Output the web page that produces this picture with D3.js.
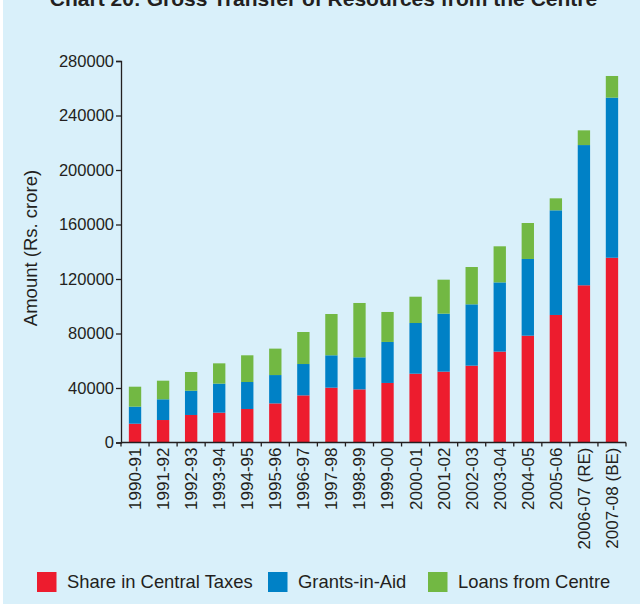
<!DOCTYPE html>
<html>
<head>
<meta charset="utf-8">
<script src="https://cdn.jsdelivr.net/npm/d3@7"></script>
<style>
  html, body { margin: 0; padding: 0; background: #ffffff; }
  svg { display: block; font-family: "Liberation Sans", Arial, sans-serif; }
</style>
</head>
<body>
<svg id="chart" width="640" height="604"></svg>
<script>
// Gross transfer of resources from the Centre (Rs. crore)
const years = ["1990-91", "1991-92", "1992-93", "1993-94", "1994-95", "1995-96",
  "1996-97", "1997-98", "1998-99", "1999-00", "2000-01", "2001-02", "2002-03",
  "2003-04", "2004-05", "2005-06", "2006-07 (RE)", "2007-08 (BE)"];
const shareInTaxes = [13800, 16500, 20200, 21900, 24600, 28700, 34600, 40250, 39000,
  43700, 50500, 52000, 56400, 66700, 78400, 93600, 115400, 135600];
const grantsInAid = [12500, 15200, 17800, 21300, 19800, 20800, 23000, 23750, 23500,
  30100, 37200, 42550, 45000, 50800, 56300, 76800, 102900, 117500];
const loansFromCentre = [14650, 13660, 13750, 14900, 19600, 19400, 23500, 30300, 39900,
  22000, 19300, 24950, 27400, 26500, 26400, 8800, 10800, 15900];
const seriesNames = ["Share in Central Taxes", "Grants-in-Aid", "Loans from Centre"];
const seriesColors = ["#ed1c2e", "#0081c6", "#72b843"];
const yTicks = [0, 40000, 80000, 120000, 160000, 200000, 240000, 280000];

const textColor = "#231f20";
const svg = d3.select("#chart");

// panel background
svg.append("rect").attr("x", 3).attr("y", 0).attr("width", 637).attr("height", 604)
  .attr("fill", "#d9f0fa");

// title (sits partly above the top edge)
svg.append("text").attr("x", 323.5).attr("y", 6).attr("text-anchor", "middle")
  .attr("font-size", 21).attr("font-weight", "bold").attr("fill", textColor)
  .text("Chart 20: Gross Transfer of Resources from the Centre");

const rows = years.map((y, i) => ({
  year: y,
  s0: shareInTaxes[i], s1: grantsInAid[i], s2: loansFromCentre[i]
}));
const stack = d3.stack().keys(["s0", "s1", "s2"]);
const layers = stack(rows);

const x = d3.scaleBand().domain(years).range([121, 626]).paddingInner(0.56).paddingOuter(0.28);
const y = d3.scaleLinear().domain([0, 280000]).range([442.5, 61]);

// bars
svg.append("g").selectAll("g").data(layers).join("g")
  .attr("fill", (d, i) => seriesColors[i])
  .selectAll("rect").data(d => d).join("rect")
  .attr("x", d => x(d.data.year))
  .attr("width", x.bandwidth())
  .attr("y", d => y(d[1]))
  .attr("height", d => y(d[0]) - y(d[1]));

// y axis
const yAxis = svg.append("g").attr("transform", "translate(121,0)")
  .call(d3.axisLeft(y).tickValues(yTicks).tickFormat(d3.format("d")).tickSize(5).tickPadding(2));
yAxis.selectAll("text").attr("font-size", 16.5).attr("fill", textColor).attr("font-family", "Liberation Sans, Arial, sans-serif");
yAxis.selectAll("line").attr("stroke", textColor).attr("stroke-width", 1.3);
yAxis.select(".domain").attr("stroke", textColor).attr("stroke-width", 1.3);

// x axis: ticks on band boundaries, labels rotated
const xAxis = svg.append("g").attr("transform", "translate(0,442.5)");
xAxis.append("line").attr("x1", 121).attr("x2", 626).attr("stroke", textColor).attr("stroke-width", 1.3);
const step = x.step();
const bounds = d3.range(years.length + 1).map(i => x(years[0]) - x.paddingOuter() * step + i * step);
xAxis.selectAll(".tk").data(bounds).join("line").attr("class", "tk")
  .attr("x1", d => d).attr("x2", d => d).attr("y1", 0).attr("y2", 4)
  .attr("stroke", textColor).attr("stroke-width", 1.3);
xAxis.selectAll(".lbl").data(years).join("text").attr("class", "lbl")
  .attr("transform", d => `translate(${x(d) + x.bandwidth() / 2},5) rotate(-90)`)
  .attr("text-anchor", "end").attr("dy", "0.35em")
  .attr("font-size", 17).attr("fill", textColor)
  .text(d => d);

// y axis title
svg.append("text").attr("transform", "translate(37,248) rotate(-90)")
  .attr("text-anchor", "middle").attr("font-size", 18.5).attr("fill", textColor)
  .text("Amount (Rs. crore)");

// legend
const legendX = [37, 268, 428];
const legend = svg.append("g").selectAll("g").data(seriesNames).join("g")
  .attr("transform", (d, i) => `translate(${legendX[i]},572)`);
legend.append("rect").attr("width", 19.5).attr("height", 20).attr("fill", (d, i) => seriesColors[i]);
legend.append("text").attr("x", 30).attr("y", 10).attr("dy", "0.35em")
  .attr("font-size", 18.4).attr("fill", textColor).text(d => d);
</script>
</body>
</html>
